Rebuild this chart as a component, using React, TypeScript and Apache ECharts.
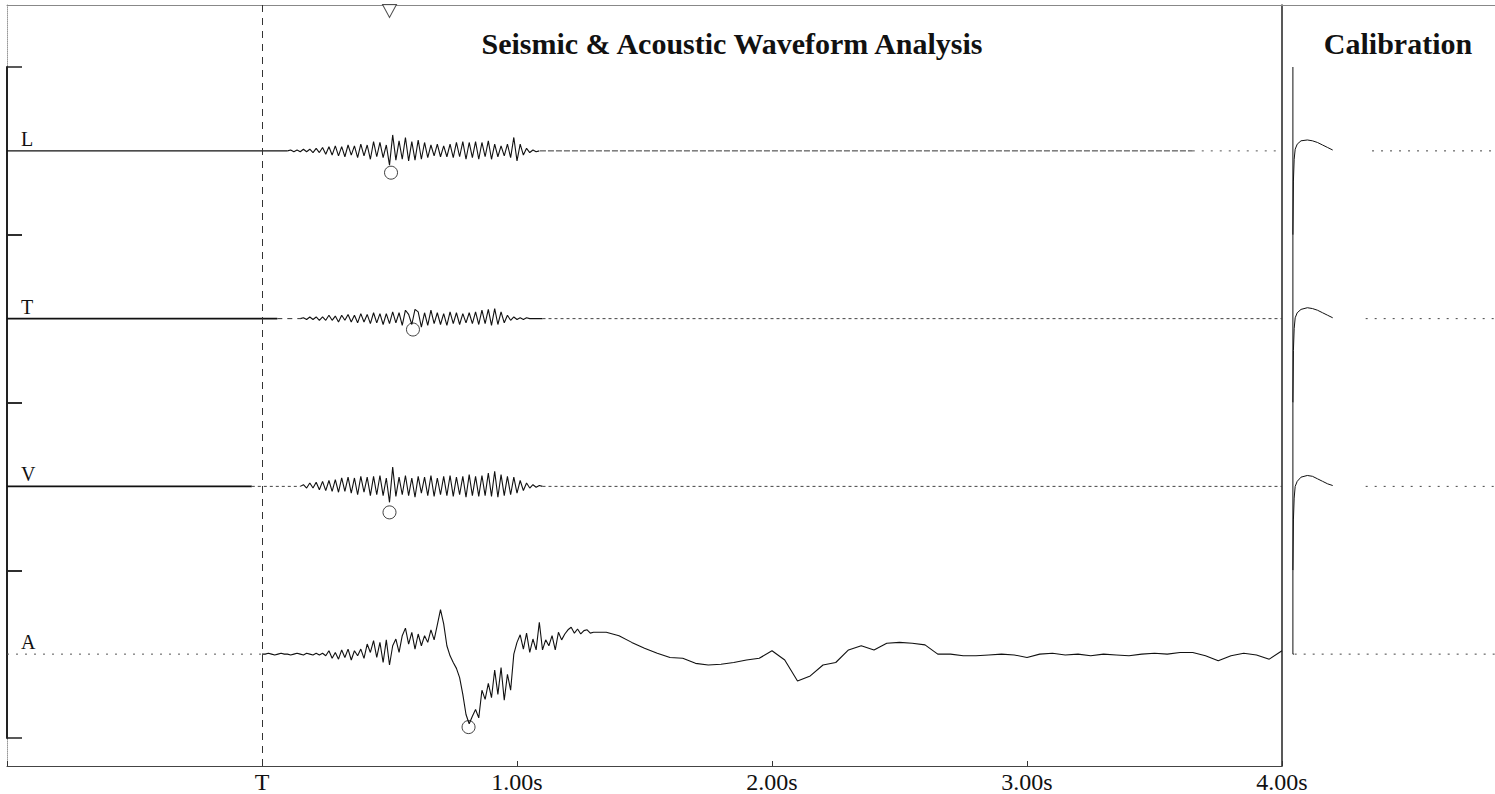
import React, { useEffect, useRef } from "react";
import * as echarts from "echarts";

// ---------- texts & ticks ----------
const titleText = "Seismic & Acoustic Waveform Analysis";
const calTitleText = "Calibration";
const channelNames = ["L", "T", "V", "A"];
const timeTicks = [-1, 0, 1, 2, 3, 4];
const timeTickLabels = ["", "T", "1.00s", "2.00s", "3.00s", "4.00s"];
const timeMin = -1;
const timeMax = 4;
const ampMin = -100;
const ampMax = 100;

// ---------- waveform readings (amplitude, arbitrary counts) ----------
const waveStep = 0.0125;

const lStart = 0.1;
const lWave = [0, 1, -1, 1, -1, 2, -1, 2, -2, 3, -2, 4, -4, 5, -5, 6, -6, 5, -7, 7, -5, 6, -8, 8, -6, 7, -10, 11, -7, 10, -8, 7, -17, 19, -11, 12, -10, 16, -12, 11, -11, 13, -10, 10, -8, 7, -6, 8, -7, 6, -7, 8, -8, 10, -7, 11, -10, 10, -8, 11, -10, 10, -7, 12, -10, 8, -7, 6, -6, 8, -8, 16, -12, 8, -5, 3, -2, 1, -1, 0];

const tStart = 0.15;
const tWave = [0, 1, -1, 2, -1, 2, -2, 2, -2, 4, -2, 3, -4, 4, -2, 5, -4, 4, -5, 6, -4, 5, -6, 7, -5, 6, -7, 6, -6, 8, -5, 7, -8, 10, 5, -7, 11, 8, -10, 7, -8, 10, -6, 7, -7, 6, -8, 8, -6, 7, -7, 6, -5, 7, -6, 8, -7, 10, -6, 11, -8, 12, -7, 8, -5, 4, -2, 2, -1, 1, -1, 1, 0, 0, 0, 0, 0];

const vStart = 0.15;
const vWave = [0, 2, -2, 4, -2, 5, -4, 6, -5, 7, -6, 8, -7, 10, -6, 11, -8, 10, -10, 12, -7, 11, -11, 12, -10, 13, -11, 10, -19, 23, -12, 11, -10, 13, -11, 10, -13, 12, -8, 11, -11, 13, -12, 10, -10, 12, -11, 13, -12, 11, -10, 12, -13, 14, -11, 12, -12, 13, -11, 16, -12, 18, -13, 14, -11, 12, -10, 11, -8, 7, -5, 4, -2, 2, -1, 1, 0];

const aStart = 0.0;
const aWave = [0, 0, 1, 0, -1, 0, 1, 0, 0, -1, 0, 1, 0, -1, 1, 0, -1, 1, -1, 1, -2, 4, -5, 2, -6, 5, -4, 6, -7, 4, -2, 6, -5, 12, 2, 16, -4, 14, -10, 17, -13, 10, 18, 2, 22, 31, 12, 26, 6, 24, 10, 22, 14, 29, 17, 35, 53, 36, 10, -2, -10, -17, -28, -48, -72, -83, -74, -66, -76, -43, -54, -35, -52, -19, -48, -16, -55, -24, -43, 0, 14, 23, 6, 25, 2, 18, 5, 38, 5, 17, 10, 22, 5, 26, 17, 24, 29, 32, 25, 30, 24, 28, 29, 25, 26];
const aLateStart = 1.35;
const aLateStep = 0.05;
const aLateWave = [26, 22, 14, 7, 1, -4, -5, -11, -13, -12, -10, -7, -5, 4, -7, -32, -26, -13, -10, 5, 10, 5, 13, 14, 13, 11, 0, 0, -2, -2, -1, 0, -1, -4, 0, 1, -1, 0, -2, 0, -1, -2, 0, 1, 0, 2, 2, -2, -8, -2, 1, -1, -6, 4];

// quiet (zero-amplitude) stretches: [from, to, look]
const lQuiet = [[-1.0, 0.1, "solid"], [1.09, 3.65, "dense"], [3.65, 4.0, "sparse"]];
const tQuiet = [[-1.0, 0.06, "heavy"], [0.06, 0.15, "dash"], [1.1, 4.0, "dots"]];
const vQuiet = [[-1.0, -0.04, "heavy"], [-0.04, 0.15, "dots"], [1.1, 4.0, "dots"]];
const aQuiet = [[-1.0, 0.0, "sparse"]];

// picks
const arrivalTime = 0.5;
const pickTimes = [0.506, 0.592, 0.5, 0.81];
const pickAmps = [-26, -13, -31, -87];

// calibration step responses
const calSpan = 0.84;
const calTimes = [0.043, 0.043, 0.045, 0.048, 0.052, 0.06, 0.075, 0.1, 0.12, 0.14, 0.16, 0.18, 0.2];
const calL = [100, -100, -36, -10, 2, 8, 12, 13, 12, 10, 7, 4, 1];
const calT = [100, -100, -38, -12, 1, 7, 11, 13, 12, 10, 7, 4, 1];
const calV = [100, -100, -40, -14, 0, 6, 11, 13, 12, 9, 6, 3, 1];
const calATimes = [0.043, 0.043, 0.047];
const calA = [100, 0, 0];
const calQuietFrom = [0.355, 0.33, 0.33, 0.05];

// ---------- layout ----------
const W = 1495;
const H = 794;
const plotLeft = 7;
const plotRight = 1282;
const plotTop = 5;
const plotBottom = 766;
const bandTop = 67;
const bandBottom = 738;
const bandH = (bandBottom - bandTop) / 4;
const calWidth = W - plotRight;
const serif = "'Liberation Serif', 'Times New Roman', serif";
const ink = "#111";

const quietStyles: Record<string, any> = {
  solid: { color: ink, width: 1.2, type: "solid" },
  heavy: { color: ink, width: 1.8, type: "solid" },
  dense: { color: "#333", width: 1, type: [6, 2] },
  dash: { color: "#333", width: 1, type: [5, 5] },
  dots: { color: "#444", width: 1, type: [3, 3] },
  sparse: { color: "#555", width: 1, type: [2, 7] },
};

function sampled(start: number, step: number, values: number[]) {
  return values.map((v, i) => [+(start + i * step).toFixed(4), v]);
}

function buildOption() {
  const grids: any[] = [
    { left: plotLeft, top: plotTop, width: plotRight - plotLeft, height: plotBottom - plotTop },
    { left: plotRight, top: plotTop, width: calWidth, height: plotBottom - plotTop },
  ];
  channelNames.forEach((_, i) =>
    grids.push({ left: plotLeft, top: bandTop + i * bandH, width: plotRight - plotLeft, height: bandH })
  );
  channelNames.forEach((_, i) =>
    grids.push({ left: plotRight, top: bandTop + i * bandH, width: calWidth, height: bandH })
  );

  const hidden = { show: false };
  const xAxis: any[] = [
    {
      gridIndex: 0, type: "value", min: timeMin, max: timeMax, interval: 1, position: "bottom",
      axisLine: { show: true, onZero: false, lineStyle: { color: "#444", width: 1 } },
      axisTick: { show: true, inside: true, length: 5, lineStyle: { color: "#333" } },
      axisLabel: {
        show: true, margin: 4, fontFamily: serif, fontSize: 24, color: ink,
        showMinLabel: true, showMaxLabel: true,
        formatter: (v: number) => {
          const k = timeTicks.indexOf(Math.round(v));
          return k >= 0 ? timeTickLabels[k] : "";
        },
      },
      splitLine: hidden,
    },
    {
      gridIndex: 0, type: "value", min: timeMin, max: timeMax, position: "top",
      axisLine: { show: true, onZero: false, lineStyle: { color: "#888", width: 1 } },
      axisTick: hidden, axisLabel: hidden, splitLine: hidden,
    },
    {
      gridIndex: 1, type: "value", min: 0, max: calSpan, position: "top",
      axisLine: { show: true, onZero: false, lineStyle: { color: "#888", width: 1 } },
      axisTick: hidden, axisLabel: hidden, splitLine: hidden,
    },
  ];
  channelNames.forEach((_, i) =>
    xAxis.push({ gridIndex: 2 + i, type: "value", min: timeMin, max: timeMax, show: false })
  );
  channelNames.forEach((_, i) =>
    xAxis.push({ gridIndex: 6 + i, type: "value", min: 0, max: calSpan, show: false })
  );

  const yAxis: any[] = [
    {
      gridIndex: 0, type: "value", min: 0, max: 1, position: "left",
      axisLine: { show: true, onZero: false, lineStyle: { color: "#999", width: 1, type: "dotted" } },
      axisTick: hidden, axisLabel: hidden, splitLine: hidden,
    },
    {
      gridIndex: 0, type: "value", min: 0, max: 1, position: "right",
      axisLine: { show: true, onZero: false, lineStyle: { color: "#222", width: 1.5 } },
      axisTick: hidden, axisLabel: hidden, splitLine: hidden,
    },
    { gridIndex: 1, type: "value", min: 0, max: 1, show: false },
  ];
  channelNames.forEach((_, i) =>
    yAxis.push({
      gridIndex: 2 + i, type: "value", min: ampMin, max: ampMax, position: "left",
      axisLine: { show: true, onZero: false, lineStyle: { color: "#222", width: 2 } },
      axisTick: { show: true, inside: true, length: 15, customValues: [ampMin, ampMax], lineStyle: { color: "#222", width: 1.5 } },
      axisLabel: hidden, splitLine: hidden,
    })
  );
  channelNames.forEach((_, i) =>
    yAxis.push({ gridIndex: 6 + i, type: "value", min: ampMin, max: ampMax, show: false })
  );

  const series: any[] = [];
  // arrival triangle + T reference line
  series.push({
    type: "scatter", xAxisIndex: 0, yAxisIndex: 0, silent: true, clip: false,
    data: [[arrivalTime, 1]],
    symbol: "path://M0,0 L14,0 L7,13 Z", symbolSize: [14, 13], symbolOffset: [0, 6],
    itemStyle: { color: "#fff", borderColor: "#222", borderWidth: 1 },
    markLine: {
      silent: true, symbol: ["none", "none"], label: { show: false },
      lineStyle: { color: "#333", width: 1, type: [7, 6] },
      data: [{ xAxis: 0 }],
    },
  });

  const mains = [
    sampled(lStart, waveStep, lWave),
    sampled(tStart, waveStep, tWave),
    sampled(vStart, waveStep, vWave),
    sampled(aStart, waveStep, aWave).concat(sampled(aLateStart, aLateStep, aLateWave)),
  ];
  const quiets = [lQuiet, tQuiet, vQuiet, aQuiet];

  channelNames.forEach((name, i) => {
    series.push({
      name, type: "line", xAxisIndex: 3 + i, yAxisIndex: 3 + i, data: mains[i],
      showSymbol: false, symbol: "none", silent: true,
      lineStyle: { color: ink, width: 1.1 },
    });
    quiets[i].forEach((q: any) => {
      series.push({
        type: "line", xAxisIndex: 3 + i, yAxisIndex: 3 + i,
        data: [[q[0], 0], [q[1], 0]], showSymbol: false, symbol: "none", silent: true,
        lineStyle: quietStyles[q[2]],
      });
    });
    series.push({
      type: "scatter", xAxisIndex: 3 + i, yAxisIndex: 3 + i, silent: true,
      data: [[pickTimes[i], pickAmps[i]]], symbol: "circle", symbolSize: 13,
      itemStyle: { color: "rgba(0,0,0,0)", borderColor: ink, borderWidth: 1 },
    });
  });

  // calibration
  const calSets = [
    calTimes.map((t, k) => [t, calL[k]]),
    calTimes.map((t, k) => [t, calT[k]]),
    calTimes.map((t, k) => [t, calV[k]]),
    calATimes.map((t, k) => [t, calA[k]]),
  ];
  channelNames.forEach((_, i) => {
    series.push({
      type: "line", xAxisIndex: 7 + i, yAxisIndex: 7 + i, data: calSets[i],
      showSymbol: false, symbol: "none", silent: true, clip: false,
      lineStyle: { color: ink, width: 1 },
    });
    series.push({
      type: "line", xAxisIndex: 7 + i, yAxisIndex: 7 + i,
      data: [[calQuietFrom[i], 0], [calSpan, 0]], showSymbol: false, symbol: "none", silent: true,
      lineStyle: { color: "#444", width: 1, type: [2, 7] },
    });
  });

  const graphic: any[] = [
    {
      type: "text", x: 732, y: 43, silent: true,
      style: {
        text: titleText, fill: ink, font: `bold 30px ${serif}`,
        textAlign: "center", textVerticalAlign: "middle", align: "center", verticalAlign: "middle",
      },
    },
    {
      type: "text", x: 1398, y: 43, silent: true,
      style: {
        text: calTitleText, fill: ink, font: `bold 30px ${serif}`,
        textAlign: "center", textVerticalAlign: "middle", align: "center", verticalAlign: "middle",
      },
    },
  ];
  channelNames.forEach((name, i) => {
    graphic.push({
      type: "text", x: 21, y: bandTop + bandH * (i + 0.5) - 12, silent: true,
      style: {
        text: name, fill: ink, font: `20px ${serif}`,
        textAlign: "left", textVerticalAlign: "middle", align: "left", verticalAlign: "middle",
      },
    });
  });

  return {
    animation: false,
    backgroundColor: "#fff",
    textStyle: { fontFamily: serif },
    grid: grids,
    xAxis,
    yAxis,
    series,
    graphic,
  };
}

export default function App() {
  const ref = useRef<HTMLDivElement>(null);
  useEffect(() => {
    if (!ref.current) return;
    const chart = echarts.init(ref.current, undefined, { renderer: "svg" });
    chart.setOption(buildOption() as any);
    return () => chart.dispose();
  }, []);
  return (
    <div
      ref={ref}
      style={{ position: "fixed", left: 0, top: 0, width: W, height: H, background: "#fff" }}
    />
  );
}
